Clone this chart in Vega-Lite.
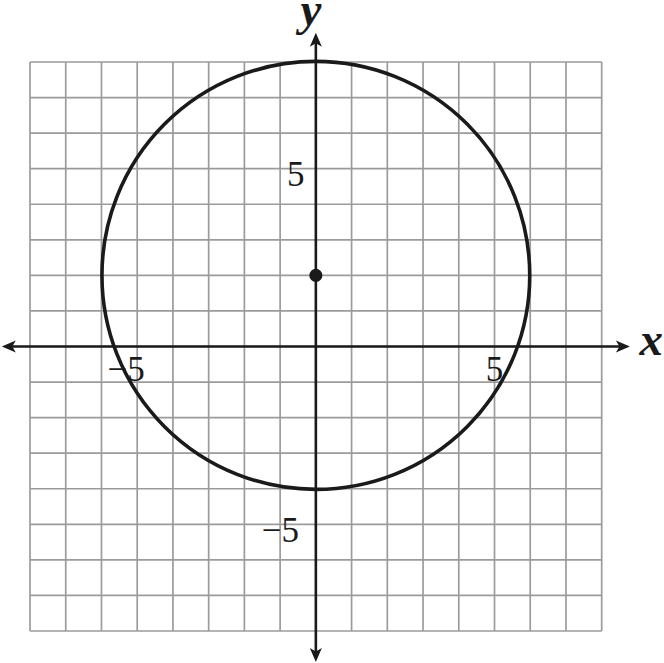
{
  "$schema": "https://vega.github.io/schema/vega-lite/v6.json",
  "width": 664,
  "height": 663,
  "autosize": "none",
  "padding": 0,
  "background": "white",
  "config": {"view": {"stroke": null}},
  "datasets": {
    "grid": [
      {"v": -8}, {"v": -7}, {"v": -6}, {"v": -5}, {"v": -4}, {"v": -3},
      {"v": -2}, {"v": -1}, {"v": 0}, {"v": 1}, {"v": 2}, {"v": 3},
      {"v": 4}, {"v": 5}, {"v": 6}, {"v": 7}, {"v": 8}
    ],
    "axes": [
      {"x1": -8.55, "x2": 8.55, "y1": 0, "y2": 0},
      {"x1": 0, "x2": 0, "y1": -8.6, "y2": 8.55}
    ],
    "arrows": [
      {"x": 8.79, "y": 0, "dir": "right"},
      {"x": -8.79, "y": 0, "dir": "left"},
      {"x": 0, "y": 8.82, "dir": "up"},
      {"x": 0, "y": -8.87, "dir": "down"}
    ],
    "circle": [{"cx": 0, "cy": 2, "r": 6}],
    "ticks": [
      {"x": -0.56, "y": 4.52, "label": "5"},
      {"x": -0.99, "y": -5.49, "label": "−5"},
      {"x": -5.31, "y": -0.97, "label": "−5"},
      {"x": 5.0, "y": -0.97, "label": "5"}
    ],
    "vars": [
      {"x": 9.39, "y": -0.24, "label": "x"},
      {"x": -0.14, "y": 9.04, "label": "y"}
    ]
  },
  "layer": [
    {
      "data": {"name": "grid"},
      "mark": {"type": "rule", "color": "#9b9b9b", "strokeWidth": 1.7},
      "encoding": {
        "x": {"field": "v", "type": "quantitative", "scale": {"domain": [-8.84, 9.744], "nice": false, "zero": false}, "axis": null},
        "y": {"datum": -8, "type": "quantitative", "scale": {"domain": [-8.9, 9.744], "nice": false, "zero": false}, "axis": null},
        "y2": {"datum": 8}
      }
    },
    {
      "data": {"name": "grid"},
      "mark": {"type": "rule", "color": "#9b9b9b", "strokeWidth": 1.7},
      "encoding": {
        "y": {"field": "v", "type": "quantitative", "axis": null},
        "x": {"datum": -8, "type": "quantitative", "axis": null},
        "x2": {"datum": 8}
      }
    },
    {
      "data": {"name": "axes"},
      "mark": {"type": "rule", "color": "#1a1a1a", "strokeWidth": 2.6},
      "encoding": {
        "x": {"field": "x1", "type": "quantitative", "axis": null},
        "x2": {"field": "x2"},
        "y": {"field": "y1", "type": "quantitative", "axis": null},
        "y2": {"field": "y2"}
      }
    },
    {
      "data": {"name": "arrows"},
      "mark": {"type": "point", "filled": true, "opacity": 1, "color": "#1a1a1a", "size": 784, "strokeWidth": 0},
      "encoding": {
        "x": {"field": "x", "type": "quantitative", "axis": null},
        "y": {"field": "y", "type": "quantitative", "axis": null},
        "shape": {
          "field": "dir",
          "type": "nominal",
          "legend": null,
          "scale": {
            "domain": ["right", "left", "up", "down"],
            "range": [
              "M0,0L-1,-0.43L-0.75,0L-1,0.43Z",
              "M0,0L1,-0.43L0.75,0L1,0.43Z",
              "M0,0L-0.43,1L0,0.75L0.43,1Z",
              "M0,0L-0.43,-1L0,-0.75L0.43,-1Z"
            ]
          }
        }
      }
    },
    {
      "data": {"name": "circle"},
      "mark": {"type": "point", "shape": "circle", "filled": false, "opacity": 1, "stroke": "#1a1a1a", "strokeWidth": 3.6, "size": 183000},
      "encoding": {
        "x": {"field": "cx", "type": "quantitative", "axis": null},
        "y": {"field": "cy", "type": "quantitative", "axis": null}
      }
    },
    {
      "data": {"name": "circle"},
      "mark": {"type": "point", "shape": "circle", "filled": true, "opacity": 1, "color": "#1a1a1a", "size": 170},
      "encoding": {
        "x": {"field": "cx", "type": "quantitative", "axis": null},
        "y": {"field": "cy", "type": "quantitative", "axis": null}
      }
    },
    {
      "data": {"name": "ticks"},
      "mark": {"type": "text", "font": "Liberation Serif", "fontSize": 35, "align": "center", "baseline": "alphabetic", "color": "#1a1a1a"},
      "encoding": {
        "x": {"field": "x", "type": "quantitative", "axis": null},
        "y": {"field": "y", "type": "quantitative", "axis": null},
        "text": {"field": "label"}
      }
    },
    {
      "data": {"name": "vars"},
      "mark": {"type": "text", "font": "Liberation Serif", "fontSize": 47, "fontStyle": "italic", "fontWeight": "bold", "align": "center", "baseline": "alphabetic", "color": "#1a1a1a"},
      "encoding": {
        "x": {"field": "x", "type": "quantitative", "axis": null},
        "y": {"field": "y", "type": "quantitative", "axis": null},
        "text": {"field": "label"}
      }
    }
  ]
}
